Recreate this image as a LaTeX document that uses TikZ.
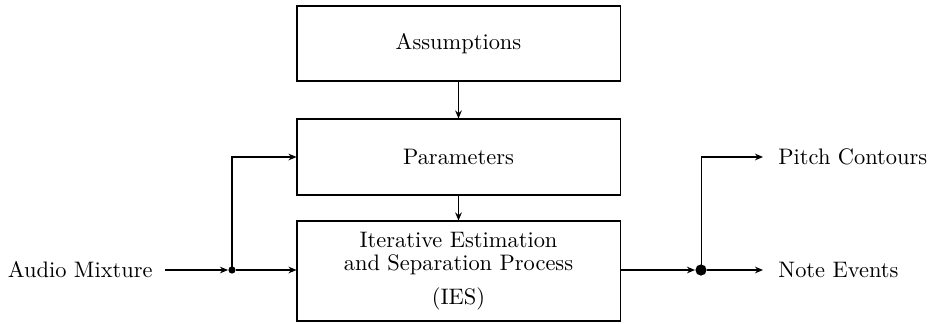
\documentclass[tikz,border=0pt]{standalone}
\usetikzlibrary{arrows.meta}
\begin{document}
\begin{tikzpicture}[x=0.446pt,y=-0.446pt,
  >={Stealth[length=3.6pt,width=3.0pt,inset=1.2pt]},
  blockbox/.style={draw,line width=0.45pt,minimum width={323*0.446pt},inner sep=0pt,align=center,font=\normalsize},
  conn/.style={->,line width=0.45pt},
  junc/.style={circle,fill=black,inner sep=0pt}]
\useasboundingbox (0,0) rectangle (930,323);
\node[blockbox,minimum height={75*0.446pt}] (ass) at (458.5,43.5) {Assumptions};
\node[blockbox,minimum height={76*0.446pt}] (par) at (458.5,157) {Parameters};
\node[blockbox,minimum height={100*0.446pt}] (ies) at (458.5,271)
  {Iterative Estimation\\[-1.7pt]and Separation Process\\[3.2pt](IES)};
\node[anchor=east,inner sep=0pt] (am) at (153,270) {Audio Mixture};
\node[junc,minimum size=3.2pt] (d1) at (232,270) {};
\node[junc,minimum size=5pt] (d2) at (701,270) {};
\coordinate (u1) at (232,157);
\coordinate (u2) at (701,157);
\node[anchor=west,inner sep=0pt] (pc) at (778,157) {Pitch Contours};
\node[anchor=west,inner sep=0pt] (ne) at (778,270) {Note Events};
\draw[conn] (ass.south) -- (par.north);
\draw[conn] (par.south) -- (ies.north);
\draw[conn,shorten <=12*0.446pt] (am.east) -- (d1.west);
\draw[conn] (d1.east) -- (ies.west |- d1);
\draw[conn] (d1.center) -- (u1) -- (par.west |- u1);
\draw[conn] (ies.east |- d2) -- (d2.west);
\draw[conn,shorten >=15*0.446pt] (d2.east) -- (ne.west);
\draw[conn,shorten >=15*0.446pt] (d2.center) -- (u2) -- (pc.west |- u2);
\end{tikzpicture}
\end{document}
